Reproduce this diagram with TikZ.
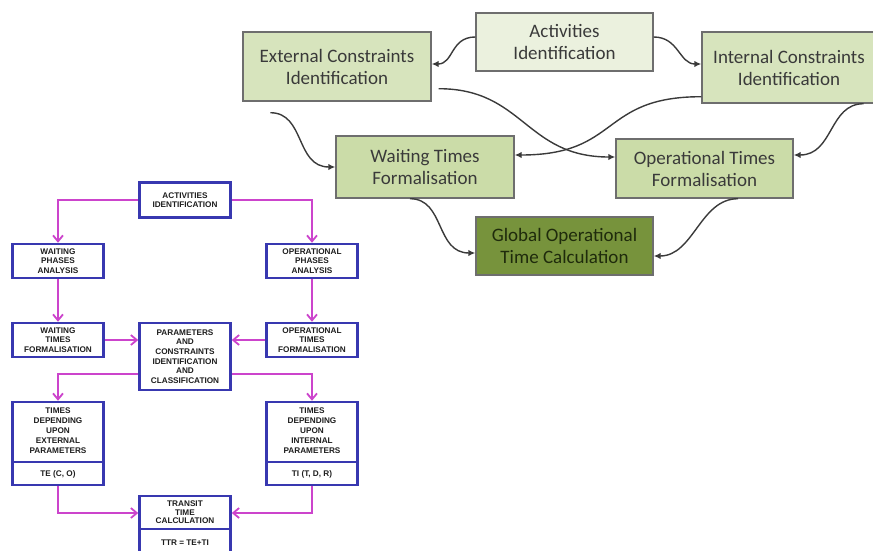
\documentclass[tikz,border=0pt]{standalone}
\usepackage{fontspec}
\setmainfont{Carlito}
\newfontfamily\lfont{Liberation Sans}
\usetikzlibrary{arrows.meta,calc}
\definecolor{boxgray}{HTML}{6E6E6E}
\definecolor{edgegray}{HTML}{3A3A3A}
\definecolor{txtgray}{HTML}{3A3A3A}
\definecolor{actfill}{HTML}{EBF1DE}
\definecolor{constrfill}{HTML}{D7E4BD}
\definecolor{formfill}{HTML}{CBDCA8}
\definecolor{globfill}{HTML}{77933C}
\definecolor{globtxt}{HTML}{1F2B0C}
\definecolor{lblue}{HTML}{3838B0}
\definecolor{lmag}{HTML}{CC44CC}
\definecolor{ltxt}{HTML}{1E1E1E}
\begin{document}
\begin{tikzpicture}[x=1pt,y=-1pt,
  gbox/.style={draw=boxgray, line width=1.4pt, text=txtgray, align=center,
    inner sep=2pt, font=\fontsize{19}{22}\selectfont},
  gedge/.style={draw=edgegray, line width=1.4pt, -{Latex[length=7pt,width=6.5pt]}},
  lbox/.style={draw=lblue, line width=2.5pt, fill=white, minimum width=91pt},
  ltext/.style={text=ltxt, align=center, inner sep=0pt,
    font=\lfont\bfseries\fontsize{8.2}{9.4}\selectfont},
  ledge/.style={draw=lmag, line width=1.8pt, -{Straight Barb[length=6pt,width=10pt]}}
]
\useasboundingbox (0,0) rectangle (873,550);

% ---------- right diagram ----------
\node[gbox, fill=actfill, minimum width=177pt, minimum height=58pt] (act) at (564.5,42) {Activities\\Identification};
\node[gbox, fill=constrfill, minimum width=188pt, minimum height=69pt] (ext) at (337,66.5) {External Constraints\\Identification};
\node[gbox, fill=constrfill, minimum width=174pt, minimum height=71pt] (int) at (789,67.5) {Internal Constraints\\Identification};
\node[gbox, fill=formfill, minimum width=178pt, minimum height=62pt] (wait) at (425,167) {Waiting Times\\Formalisation};
\node[gbox, fill=formfill, minimum width=177pt, minimum height=59pt] (op) at (704.5,168.5) {Operational Times\\Formalisation};
\node[gbox, fill=globfill, minimum width=177pt, minimum height=58pt, text=globtxt] (glob) at (564.5,246) {Global Operational\\Time Calculation};

\draw[gedge] ($(act.west)+(0,-5)$) .. controls +(-25,0) and +(22,0) .. ($(ext.east)+(0,-2.5)$);
\draw[gedge] ($(act.east)+(0,-5)$) .. controls +(25,0) and +(-22,0) .. ($(int.west)+(0,-3.5)$);
\draw[gedge] ($(ext.south west)+(28,11)$) .. controls +(35,0) and +(-40,0) .. (wait.west);
\draw[gedge] ($(ext.south east)+(7,-13)$) .. controls +(85,0) and +(-90,0) .. ($(op.west)+(0,-11.5)$);
\draw[gedge] ($(int.south west)+(0,-7)$) .. controls +(-102,0) and +(106,0) .. ($(wait.east)+(0,-12)$);
\draw[gedge] ($(int.south east)+(-13,0)$) .. controls +(-35,0) and +(40,0) .. ($(op.east)+(0,-13.5)$);
\draw[gedge] ($(wait.south)+(-15,0)$) .. controls +(35,0) and +(-40,0) .. ($(glob.west)+(0,7)$);
\draw[gedge] ($(op.south)+(33.5,0)$) .. controls +(-38,0) and +(40,0) .. ($(glob.east)+(0,10)$);

% ---------- left diagram ----------
\node[lbox, minimum height=35pt] (lact) at (185,200) {};
\node[ltext] (lactt) at (lact) {ACTIVITIES\\IDENTIFICATION};
\node[lbox, minimum height=34pt] (lwpa) at (58,261) {};
\node[ltext] (lwpat) at (lwpa) {WAITING\\PHASES\\ANALYSIS};
\node[lbox, minimum height=34pt] (lopa) at (312,261) {};
\node[ltext] (lopat) at (lopa) {OPERATIONAL\\PHASES\\ANALYSIS};
\node[lbox, minimum height=34pt] (lwtf) at (58,340) {};
\node[ltext] (lwtft) at (lwtf) {WAITING\\TIMES\\FORMALISATION};
\node[lbox, minimum height=34pt] (lotf) at (312,340) {};
\node[ltext] (lotft) at (lotf) {OPERATIONAL\\TIMES\\FORMALISATION};
\node[lbox, minimum height=67pt] (lpar) at (185,356.5) {};
\node[ltext, font=\lfont\bfseries\fontsize{8.2}{9.6}\selectfont] (lpart) at (lpar) {PARAMETERS\\AND\\CONSTRAINTS\\IDENTIFICATION\\AND\\CLASSIFICATION};

\node[lbox, minimum height=83pt] (lext) at (58,443.5) {};
\draw[draw=lblue, line width=2.5pt] (lext.west |- 0,462) -- (lext.east |- 0,462);
\node[ltext, font=\lfont\bfseries\fontsize{8.2}{10}\selectfont] (lextt) at (58,431) {TIMES\\DEPENDING\\UPON\\EXTERNAL\\PARAMETERS};
\node[ltext] (lextb) at (58,474) {TE (C, O)};

\node[lbox, minimum height=83pt] (lint) at (312,443.5) {};
\draw[draw=lblue, line width=2.5pt] (lint.west |- 0,462) -- (lint.east |- 0,462);
\node[ltext, font=\lfont\bfseries\fontsize{8.2}{10}\selectfont] (lintt) at (312,431) {TIMES\\DEPENDING\\UPON\\INTERNAL\\PARAMETERS};
\node[ltext] (lintb) at (312,474) {TI (T, D, R)};

\node[lbox, minimum height=70pt] (ltr) at (185,531) {};
\draw[draw=lblue, line width=2.5pt] (ltr.west |- 0,529) -- (ltr.east |- 0,529);
\node[ltext, font=\lfont\bfseries\fontsize{8.2}{8.6}\selectfont] (ltrt) at (185,512.5) {TRANSIT\\TIME\\CALCULATION};
\node[ltext] (ltrb) at (185,543) {TTR = TE+TI};

\draw[ledge] (lact.west) -| (lwpa.north);
\draw[ledge] (lact.east) -| (lopa.north);
\draw[ledge] (lwpa.south) -- (lwtf.north);
\draw[ledge] (lopa.south) -- (lotf.north);
\draw[ledge] (lwtf.east) -- (lpar.west |- lwtf.east);
\draw[ledge] (lotf.west) -- (lpar.east |- lotf.west);
\draw[ledge] (lpar.west |- 0,374) -| (lext.north);
\draw[ledge] (lpar.east |- 0,374) -| (lint.north);
\draw[ledge] (lext.south) |- (ltr.west |- 0,513);
\draw[ledge] (lint.south) |- (ltr.east |- 0,513);
\end{tikzpicture}
\end{document}
